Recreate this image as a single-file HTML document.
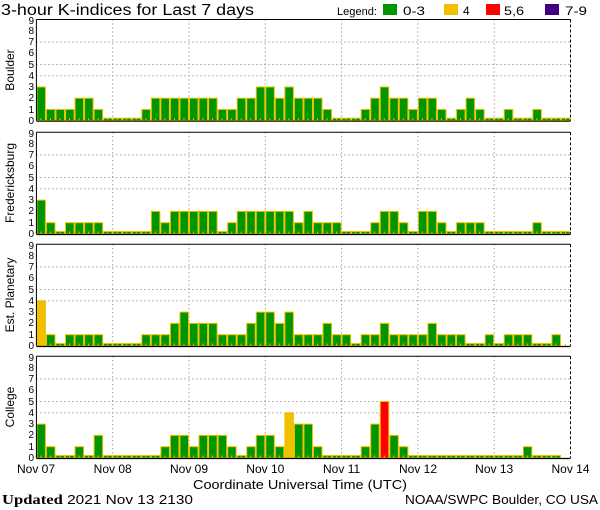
<!DOCTYPE html>
<html><head><meta charset="utf-8"><style>
html,body{margin:0;padding:0;background:#fff;width:600px;height:510px;overflow:hidden}
svg{display:block}
text{font-family:"Liberation Sans",sans-serif;fill:#000}
</style></head><body>
<svg id="s" width="600" height="510" xmlns="http://www.w3.org/2000/svg">
<text x="1" y="15" font-size="15.5" textLength="253" lengthAdjust="spacingAndGlyphs">3-hour K-indices for Last 7 days</text>
<text x="337" y="15" font-size="11" textLength="40" lengthAdjust="spacingAndGlyphs">Legend:</text>
<rect x="383" y="4" width="14" height="11" fill="#009600"/><text x="403" y="15" font-size="12" textLength="22" lengthAdjust="spacingAndGlyphs">0-3</text>
<rect x="444" y="4" width="14" height="11" fill="#f0c000"/><text x="463" y="15" font-size="12">4</text>
<rect x="486" y="4" width="14" height="11" fill="#ff0000"/><text x="504" y="15" font-size="12" textLength="20" lengthAdjust="spacingAndGlyphs">5,6</text>
<rect x="545" y="4" width="14" height="11" fill="#400080"/><text x="565" y="15" font-size="12" textLength="22" lengthAdjust="spacingAndGlyphs">7-9</text>
<g id="labels" font-size="12">
<text transform="translate(14,70) rotate(-90)" text-anchor="middle">Boulder</text>
<text transform="translate(14,183) rotate(-90)" text-anchor="middle">Fredericksburg</text>
<text transform="translate(14,295) rotate(-90)" text-anchor="middle">Est. Planetary</text>
<text transform="translate(14,407) rotate(-90)" text-anchor="middle">College</text>
</g>
<g font-size="12" text-anchor="middle">
<text x="36" y="473">Nov 07</text><text x="112.7" y="473">Nov 08</text><text x="189" y="473">Nov 09</text><text x="265.3" y="473">Nov 10</text><text x="341.6" y="473">Nov 11</text><text x="418" y="473">Nov 12</text><text x="494.2" y="473">Nov 13</text><text x="570.5" y="473">Nov 14</text>
</g>
<text x="193" y="489" font-size="13" textLength="214" lengthAdjust="spacingAndGlyphs">Coordinate Universal Time (UTC)</text>
<text x="2" y="504" font-size="13" textLength="191" lengthAdjust="spacingAndGlyphs"><tspan font-family="Liberation Serif" font-weight="bold" font-size="14">Updated</tspan> 2021 Nov 13 2130</text>
<text x="405" y="504" font-size="13" textLength="193" lengthAdjust="spacingAndGlyphs">NOAA/SWPC Boulder, CO USA</text>
<g font-size="10" text-anchor="end"><text x="34" y="124">0</text><text x="34" y="113">1</text><text x="34" y="101">2</text><text x="34" y="90">3</text><text x="34" y="79">4</text><text x="34" y="68">5</text><text x="34" y="56">6</text><text x="34" y="45">7</text><text x="34" y="34">8</text><text x="34" y="24">9</text></g>
<g font-size="10" text-anchor="end"><text x="34" y="237">0</text><text x="34" y="226">1</text><text x="34" y="214">2</text><text x="34" y="203">3</text><text x="34" y="192">4</text><text x="34" y="181">5</text><text x="34" y="169">6</text><text x="34" y="158">7</text><text x="34" y="147">8</text><text x="34" y="137">9</text></g>
<g font-size="10" text-anchor="end"><text x="34" y="349">0</text><text x="34" y="338">1</text><text x="34" y="326">2</text><text x="34" y="315">3</text><text x="34" y="304">4</text><text x="34" y="293">5</text><text x="34" y="281">6</text><text x="34" y="270">7</text><text x="34" y="259">8</text><text x="34" y="249">9</text></g>
<g font-size="10" text-anchor="end"><text x="34" y="461">0</text><text x="34" y="450">1</text><text x="34" y="438">2</text><text x="34" y="427">3</text><text x="34" y="416">4</text><text x="34" y="405">5</text><text x="34" y="393">6</text><text x="34" y="382">7</text><text x="34" y="371">8</text><text x="34" y="361">9</text></g>
</svg>
<script>
var NS="http://www.w3.org/2000/svg",s=document.getElementById("s");
function el(t,a){var e=document.createElementNS(NS,t);for(var k in a)e.setAttribute(k,a[k]);s.appendChild(e);return e;}
var data=[
[3,1,1,1,2,2,1,0,0,0,0,1,2,2,2,2,2,2,2,1,1,2,2,3,3,2,3,2, 2,2,1,0,0,0,1,2,3,2,2,1,2,2,1,0,1,2,1,0,0,1,0,0,1,0,0,0],
[3,1,0,1,1,1,1,0,0,0,0,0,2,1,2,2,2,2,2,0,1,2,2,2,2,2,2,1, 2,1,1,1,0,0,0,1,2,2,1,0,2,2,1,0,1,1,1,0,0,0,0,0,1,0,0,0],
[4,1,0,1,1,1,1,0,0,0,0,1,1,1,2,3,2,2,2,1,1,1,2,3,3,2,3,1, 1,1,2,1,1,0,1,1,2,1,1,1,1,2,1,1,1,0,0,1,0,1,1,1,0,0,1,null],
[3,1,0,0,1,0,2,0,0,0,0,0,0,1,2,2,1,2,2,2,1,0,1,2,2,1,4,3, 3,1,0,0,0,0,1,3,5,2,1,0,0,0,0,0,0,0,0,0,0,0,0,1,0,0,0]];
var tops=[19.5,132.3,244.3,356.3],bases=[120.7,234,346,458];
var X0=36.4,BW=76.3/8,X1=X0+56*BW;
for(var p=0;p<4;p++){
 var t=tops[p],b=bases[p],u=(b-t)/9;
 [4,5,7].forEach(function(v){var y=b-v*u;el("line",{x1:X0,x2:X1,y1:y,y2:y,stroke:"#777","stroke-dasharray":"1,3"});});
 for(var d=1;d<7;d++){var x=X0+d*76.3;el("line",{x1:x,x2:x,y1:t,y2:b,stroke:"#777","stroke-dasharray":"1,3"});}
 data[p].forEach(function(v,i){
  if(v===null){el("rect",{x:X0+i*BW+4,y:b-2,width:1,height:2,fill:"#f0c000"});return;}
  var x=X0+i*BW,h=v==0?2.5:v*u,c=v>=7?"#400080":v>=5?"#ff0000":v==4?"#f0c000":"#009600";
  el("rect",{x:x+0.5,y:b-h,width:BW-1,height:h,fill:c,stroke:"#f0c000","stroke-width":1});
  el("rect",{x:x+4,y:b-2.5,width:1,height:2,fill:"#f0c000"});
 });
 el("line",{x1:X0,x2:X1,y1:t,y2:t,stroke:"#000","stroke-width":1});
 el("line",{x1:X0,x2:X1,y1:b+0.5,y2:b+0.5,stroke:"#000","stroke-width":1.2});
 el("line",{x1:X0,x2:X0,y1:t,y2:b,stroke:"#000","stroke-width":1});
 el("line",{x1:X1,x2:X1,y1:t,y2:b,stroke:"#000","stroke-width":1,"stroke-dasharray":"3,2"});
}
</script>
</body></html>
